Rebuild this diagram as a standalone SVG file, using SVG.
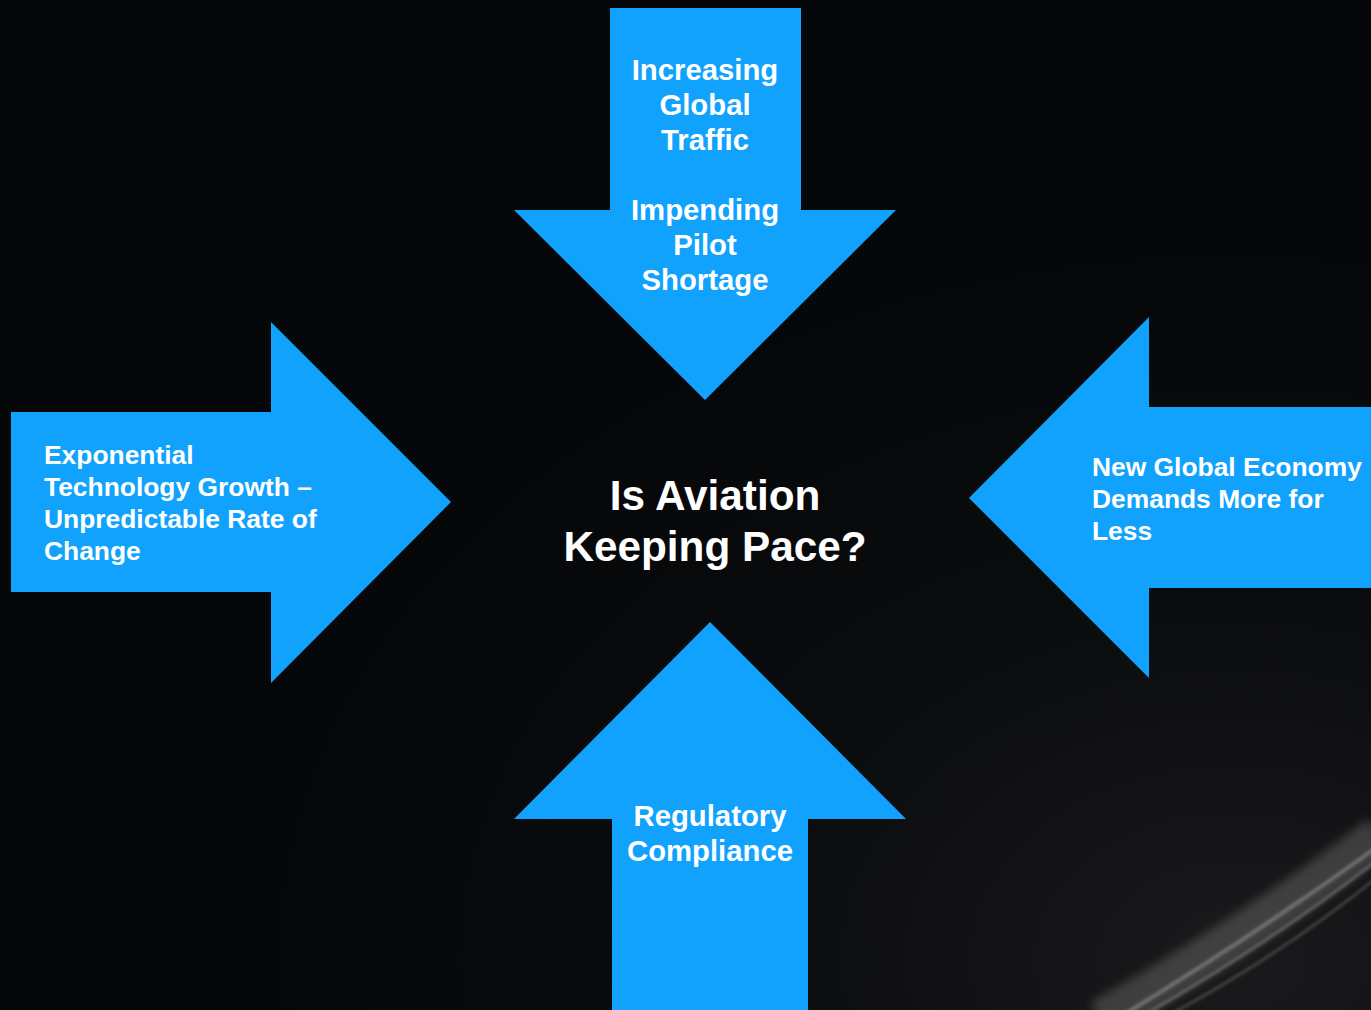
<svg xmlns="http://www.w3.org/2000/svg" width="1371" height="1010" viewBox="0 0 1371 1010">
  <defs>
    <style>
      .arrow { fill: #11a2fe; }
      .lbl { font-family: "Liberation Sans", Arial, sans-serif; font-weight: bold; fill: #ffffff; }
      .c { text-anchor: middle; }
    </style>
    <radialGradient id="bg" cx="0.9" cy="0.95" r="0.7">
      <stop offset="0" stop-color="#1a1a1c"/>
      <stop offset="0.5" stop-color="#0b0c0e"/>
      <stop offset="1" stop-color="#060709"/>
    </radialGradient>
    <filter id="blur" x="-20%" y="-20%" width="140%" height="140%">
      <feGaussianBlur stdDeviation="5"/>
    </filter>
    <filter id="blur2" x="-20%" y="-20%" width="140%" height="140%">
      <feGaussianBlur stdDeviation="1.5"/>
    </filter>
  </defs>
  <rect x="0" y="0" width="1371" height="1010" fill="url(#bg)"/>
  <g id="streak" fill="none">
    <path d="M1100,1020 Q1250,935 1380,835" stroke="#8a8a8a" stroke-width="40" opacity="0.35" filter="url(#blur)"/>
    <path d="M1115,1020 Q1255,935 1380,845" stroke="#b0b0b0" stroke-width="4" opacity="0.45" filter="url(#blur2)"/>
    <path d="M1135,1020 Q1268,945 1380,858" stroke="#b0b0b0" stroke-width="3" opacity="0.4" filter="url(#blur2)"/>
    <path d="M1160,1020 Q1282,955 1380,875" stroke="#a0a0a0" stroke-width="3" opacity="0.3" filter="url(#blur2)"/>
  </g>

  <g id="node-top">
    <polygon class="arrow" points="610,8 801,8 801,210 896,210 705,400 514,210 610,210"/>
    <text class="lbl c" font-size="29.3" x="705" y="80">Increasing</text>
    <text class="lbl c" font-size="29.3" x="705" y="115">Global</text>
    <text class="lbl c" font-size="29.3" x="705" y="150">Traffic</text>
    <text class="lbl c" font-size="29.3" x="705" y="220">Impending</text>
    <text class="lbl c" font-size="29.3" x="705" y="255">Pilot</text>
    <text class="lbl c" font-size="29.3" x="705" y="290">Shortage</text>
  </g>

  <g id="node-left">
    <polygon class="arrow" points="11,412 271,412 271,322 451,502 271,683 271,592 11,592"/>
    <text class="lbl" font-size="26.4" x="44" y="464">Exponential</text>
    <text class="lbl" font-size="26.4" x="44" y="496">Technology Growth –</text>
    <text class="lbl" font-size="26.4" x="44" y="528">Unpredictable Rate of</text>
    <text class="lbl" font-size="26.4" x="44" y="560">Change</text>
  </g>

  <g id="node-right">
    <polygon class="arrow" points="1371,407 1149,407 1149,317 969,498 1149,678 1149,588 1371,588"/>
    <text class="lbl" font-size="26.4" x="1092" y="476">New Global Economy</text>
    <text class="lbl" font-size="26.4" x="1092" y="508">Demands More for</text>
    <text class="lbl" font-size="26.4" x="1092" y="540">Less</text>
  </g>

  <g id="node-bottom">
    <polygon class="arrow" points="710,622 906,819 808,819 808,1010 612,1010 612,819 514,819"/>
    <text class="lbl c" font-size="29.3" x="710" y="826">Regulatory</text>
    <text class="lbl c" font-size="29.3" x="710" y="861">Compliance</text>
  </g>

  <g id="node-center">
    <text class="lbl c" font-size="42.3" x="715" y="510">Is Aviation</text>
    <text class="lbl c" font-size="42.3" x="715" y="561">Keeping Pace?</text>
  </g>

  <g id="connectors"></g>
</svg>
